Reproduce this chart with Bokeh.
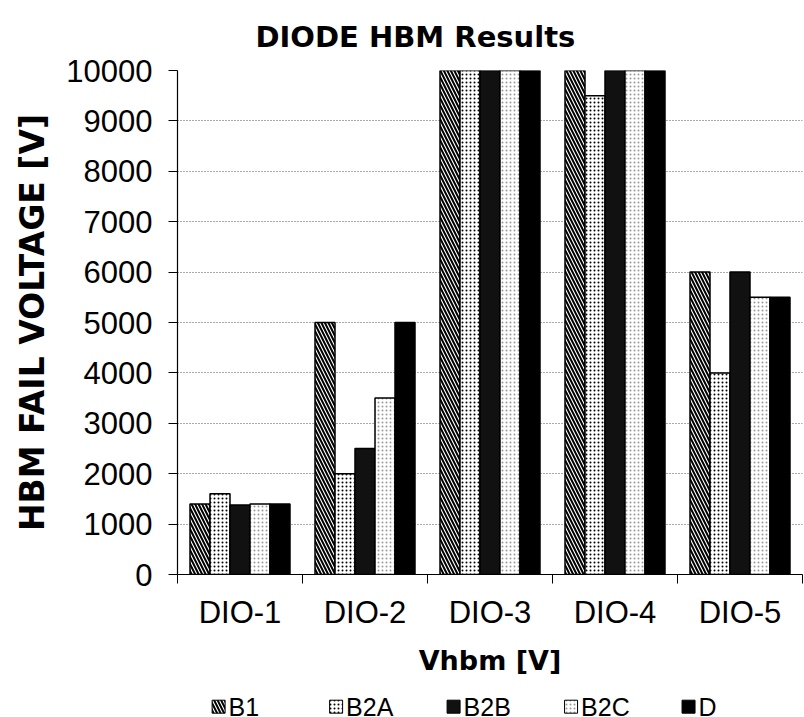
from bokeh.plotting import figure
from bokeh.layouts import column
from bokeh.core.properties import value
from bokeh.models import ColumnDataSource, FixedTicker, Range1d
from bokeh.transform import dodge
from bokeh.embed import file_html
from bokeh.resources import INLINE

# Devices and HBM fail voltage per test structure
categories = ["DIO-1", "DIO-2", "DIO-3", "DIO-4", "DIO-5"]
series_names = ["B1", "B2A", "B2B", "B2C", "D"]
b1 = [1400, 5000, 10000, 10000, 6000]
b2a = [1600, 2000, 10000, 9500, 4000]
b2b = [1380, 2500, 10000, 10000, 6000]
b2c = [1400, 3500, 10000, 10000, 5500]
d = [1400, 5000, 10000, 10000, 5500]
y_ticks = [0, 1000, 2000, 3000, 4000, 5000, 6000, 7000, 8000, 9000, 10000]

values = [b1, b2a, b2b, b2c, d]
positions = [i + 0.5 for i in range(len(categories))]
data = {"x": positions}
for name, vals in zip(series_names, values):
    data[name] = vals
source = ColumnDataSource(data)

TICK_FONT = "Liberation Sans"
BOLD_FONT = "DejaVu Sans"

p = figure(
    frame_width=625, frame_height=504,
    x_range=Range1d(0, len(categories)), y_range=Range1d(0, 10000),
    output_backend="svg", toolbar_location=None,
    min_border_left=177, min_border_right=2, min_border_top=70, min_border_bottom=116,
    title="DIODE HBM Results",
)
p.outline_line_color = None
p.background_fill_color = "white"
p.border_fill_color = "white"

p.title.align = "left"
p.title.offset = 78
p.title.text_font = BOLD_FONT
p.title.text_font_size = "29px"
p.title.text_font_style = "bold"
p.title.text_color = "black"
p.title.standoff = 34

# fill styles for each series
styles = {
    "B1": dict(fill_color="white", hatch_pattern="left_diagonal_line", hatch_color="black",
               hatch_scale=7, hatch_weight=2.0),
    "B2A": dict(fill_color="white", hatch_pattern="dot", hatch_color="black",
                hatch_scale=4, hatch_weight=1.3),
    "B2B": dict(fill_color="#111111"),
    "B2C": dict(fill_color="white", hatch_pattern="dot", hatch_color="#999999",
                hatch_scale=4, hatch_weight=0.8),
    "D": dict(fill_color="black"),
}

bar_w = 0.16
for j, name in enumerate(series_names):
    p.vbar(x=dodge("x", (j - 2) * bar_w, range=p.x_range), top=name, width=bar_w,
           source=source, line_color="black", line_width=1.5, **styles[name])

# x axis: labels at category centres, ticks at category boundaries
p.xaxis.ticker = FixedTicker(ticks=positions, minor_ticks=list(range(len(categories) + 1)))
p.xaxis.major_label_overrides = {pos: cat for pos, cat in zip(positions, categories)}
p.xaxis.major_tick_out = 0
p.xaxis.minor_tick_out = 9
p.xaxis.minor_tick_in = 0
p.xaxis.minor_tick_line_color = "black"
p.xaxis.major_label_standoff = 11
p.xaxis.axis_label = "Vhbm [V]"
p.xaxis.axis_label_standoff = 12

p.yaxis.ticker = FixedTicker(ticks=y_ticks)
p.yaxis.minor_tick_line_color = None
p.yaxis.major_tick_out = 9
p.yaxis.major_tick_in = 0
p.yaxis.major_label_standoff = 16
p.yaxis.axis_label = "HBM FAIL VOLTAGE [V]"
p.yaxis.axis_label_standoff = 11

for ax in (p.xaxis, p.yaxis):
    ax.axis_line_color = "black"
    ax.axis_line_width = 1.2
    ax.major_label_text_font = TICK_FONT
    ax.major_label_text_font_size = "31px"
    ax.major_label_text_color = "black"
    ax.axis_label_text_font = BOLD_FONT
    ax.axis_label_text_font_style = "bold"
    ax.axis_label_text_color = "black"
p.xaxis.major_tick_line_color = None
p.yaxis.major_tick_line_color = "black"
p.xaxis.axis_label_text_font_size = "27px"
p.yaxis.axis_label_text_font_size = "33px"

p.xgrid.grid_line_color = None
p.ygrid.grid_line_color = "#555555"
p.ygrid.grid_line_dash = "1 2"
p.ygrid.grid_line_width = 1

# key strip: one slot per series (by index), swatch followed by its name
key = figure(width=804, height=27, x_range=Range1d(-0.35, 4.97), y_range=Range1d(0, 1),
             x_axis_type=None, y_axis_type=None,
             output_backend="svg", toolbar_location=None,
             min_border_left=177, min_border_right=2, min_border_top=0, min_border_bottom=0)
key.outline_line_color = None
key.grid.visible = False
key.background_fill_color = "white"
key.border_fill_color = "white"
for k, name in enumerate(series_names):
    ks = ColumnDataSource(dict(slot=[k], name=[name]))
    key.scatter(x="slot", y=0.4, source=ks,
                marker="square", size=13, line_color="black", line_width=1, **styles[name])
    key.text(x=dodge("slot", 0.085, range=key.x_range), y=0.4, text="name", source=ks,
             text_font=value(TICK_FONT), text_font_size="25px", text_color="black",
             text_align="left", text_baseline="middle")

layout = column(p, key, spacing=0)
open("out.html", "w").write(file_html(layout, INLINE))
